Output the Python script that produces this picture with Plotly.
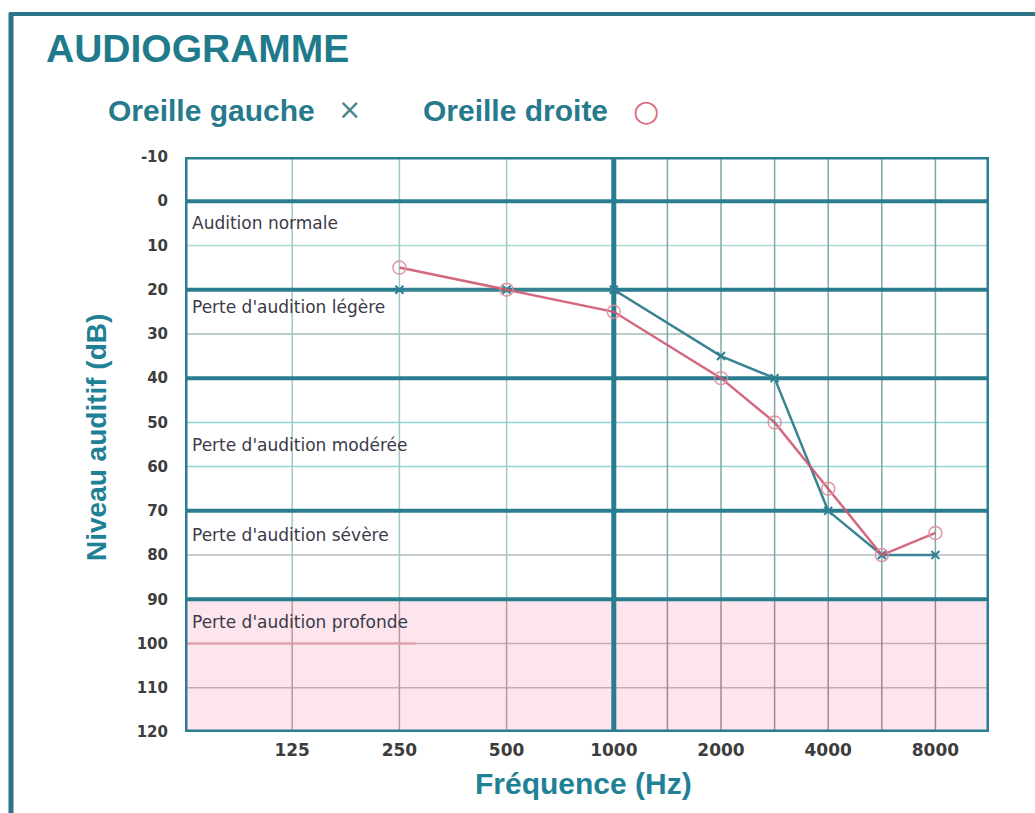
import plotly.graph_objects as go

# Audiometric frequencies (Hz) and hearing thresholds (dB HL)
frequencies = [250, 500, 1000, 2000, 3000, 4000, 6000, 8000]
left_ear = [20, 20, 20, 35, 40, 70, 80, 80]    # Oreille gauche (×)
right_ear = [15, 20, 25, 40, 50, 65, 80, 75]   # Oreille droite (○)

# Horizontal position of each frequency on the audiogram (one unit per octave)
freq_position = {62.5: -1, 125: 0, 250: 1, 500: 2, 1000: 3, 1500: 3.5, 2000: 4,
                 3000: 4.5, 4000: 5, 6000: 5.5, 8000: 6, 12000: 6.5}
tick_freqs = [125, 250, 500, 1000, 2000, 4000, 8000]
tick_labels = [str(f) for f in tick_freqs]
grid_freqs_left = [125, 250, 500]
grid_freqs_right = [1500, 2000, 3000, 4000, 6000, 8000]

db_ticks = list(range(-10, 121, 10))
band_limits = [0, 20, 40, 70, 90]          # thick lines between hearing-loss bands
thin_levels = [10, 30, 50, 60, 80, 100, 110]
thin_colors = {10: "#a9d9cf", 30: "#a4bdb5", 50: "#93d4d6", 60: "#93d4d6",
               80: "#b3bcbf", 100: "#c7aab2", 110: "#c7aab2"}

bands = [("Audition normale", 5), ("Perte d'audition légère", 24),
         ("Perte d'audition modérée", 55), ("Perte d'audition sévère", 75.5),
         ("Perte d'audition profonde", 95.2)]

TEAL = "#2a7c8f"
X_MIN, X_MAX = freq_position[62.5], freq_position[12000]
Y_TOP, Y_BOT = -10, 120

W, H = 1035, 813
M_L, M_R, M_T, M_B = 185, 46, 157, 81


def paper_x(px):
    return (px - M_L) / (W - M_L - M_R)


def paper_y(py):
    return (H - M_B - py) / (H - M_T - M_B)


fig = go.Figure()

shapes = []
# Profound-loss zone
shapes.append(dict(type="rect", xref="x", yref="y", x0=X_MIN, x1=X_MAX, y0=90, y1=Y_BOT,
                   fillcolor="#fde5ee", line=dict(width=0), layer="below"))
# Thin horizontal grid
for lv in thin_levels:
    shapes.append(dict(type="line", xref="x", yref="y", x0=X_MIN, x1=X_MAX, y0=lv, y1=lv,
                       line=dict(color=thin_colors[lv], width=1.5), layer="below"))
# Thin vertical grid
for f in grid_freqs_left:
    xp = freq_position[f]
    shapes.append(dict(type="line", xref="x", yref="y", x0=xp, x1=xp, y0=Y_TOP, y1=90,
                       line=dict(color="#9fc9c7", width=1.5), layer="below"))
    shapes.append(dict(type="line", xref="x", yref="y", x0=xp, x1=xp, y0=90, y1=Y_BOT,
                       line=dict(color="#bf969e", width=1.5), layer="below"))
for f in grid_freqs_right:
    xp = freq_position[f]
    shapes.append(dict(type="line", xref="x", yref="y", x0=xp, x1=xp, y0=Y_TOP, y1=90,
                       line=dict(color="#7fa6a9", width=1.5), layer="below"))
    shapes.append(dict(type="line", xref="x", yref="y", x0=xp, x1=xp, y0=90, y1=Y_BOT,
                       line=dict(color="#a8858d", width=1.5), layer="below"))
# Underline below the profound-loss label
shapes.append(dict(type="line", xref="x", yref="y", x0=X_MIN, x1=1.15, y0=100, y1=100,
                   line=dict(color="#df9aa6", width=2), layer="below"))
# Thick band limits and the 1000 Hz divider
for lv in band_limits:
    shapes.append(dict(type="line", xref="x", yref="y", x0=X_MIN, x1=X_MAX, y0=lv, y1=lv,
                       line=dict(color=TEAL, width=4), layer="below"))
x1k = freq_position[1000]
shapes.append(dict(type="line", xref="x", yref="y", x0=x1k, x1=x1k, y0=Y_TOP, y1=Y_BOT,
                   line=dict(color=TEAL, width=5), layer="below"))
# Plot frame
shapes.append(dict(type="rect", xref="x", yref="y", x0=X_MIN, x1=X_MAX, y0=Y_TOP, y1=Y_BOT,
                   line=dict(color=TEAL, width=5), layer="above"))
# Card border (left and top edges)
shapes.append(dict(type="line", xref="paper", yref="paper", x0=paper_x(11), x1=paper_x(11),
                   y0=paper_y(13), y1=paper_y(H + 5), line=dict(color="#2d7489", width=5)))
shapes.append(dict(type="line", xref="paper", yref="paper", x0=paper_x(9), x1=paper_x(W + 5),
                   y0=paper_y(14), y1=paper_y(14), line=dict(color="#2d7489", width=4)))

xs = [freq_position[f] for f in frequencies]

fig.add_trace(go.Scatter(
    x=xs, y=left_ear, mode="lines+markers", name="Oreille gauche",
    line=dict(color="#3a8393", width=2.5),
    marker=dict(symbol="x-thin", size=8, line=dict(color="#2f7f92", width=2)),
))
fig.add_trace(go.Scatter(
    x=xs, y=right_ear, mode="lines+markers", name="Oreille droite",
    line=dict(color="#d0596f", width=2.5),
    marker=dict(symbol="circle-open", size=13, color="#df8a98", line=dict(width=1.5)),
    opacity=0.9,
))

annotations = []
for label, lv in bands:
    annotations.append(dict(x=X_MIN, y=lv, xref="x", yref="y", text=label, showarrow=False,
                            xanchor="left", yanchor="middle", xshift=5,
                            font=dict(family="DejaVu Sans", size=17, color="#3a3a48")))

annotations += [
    dict(x=paper_x(44), y=paper_y(48), xref="paper", yref="paper", text="<b>AUDIOGRAMME</b>",
         showarrow=False, xanchor="left", yanchor="middle",
         font=dict(family="Liberation Sans", size=39, color="#1f7b8c")),
    dict(x=paper_x(106), y=paper_y(110), xref="paper", yref="paper", text="<b>Oreille gauche</b>",
         showarrow=False, xanchor="left", yanchor="middle",
         font=dict(family="Liberation Sans", size=30, color="#267a8c")),
    dict(x=paper_x(349), y=paper_y(109), xref="paper", yref="paper", text="×",
         showarrow=False, xanchor="center", yanchor="middle",
         font=dict(family="DejaVu Sans", size=28, color="#4f8390")),
    dict(x=paper_x(421), y=paper_y(110), xref="paper", yref="paper", text="<b>Oreille droite</b>",
         showarrow=False, xanchor="left", yanchor="middle",
         font=dict(family="Liberation Sans", size=30, color="#267a8c")),
    dict(x=paper_x(646), y=paper_y(110), xref="paper", yref="paper", text="○",
         showarrow=False, xanchor="center", yanchor="middle",
         font=dict(family="DejaVu Sans", size=30, color="#d9697f")),
    dict(x=paper_x(96), y=paper_y(438), xref="paper", yref="paper", text="<b>Niveau auditif (dB)</b>",
         textangle=-90, showarrow=False, xanchor="center", yanchor="middle",
         font=dict(family="Liberation Sans", size=28, color="#1f8196")),
    dict(x=paper_x(583), y=paper_y(783), xref="paper", yref="paper", text="<b>Fréquence (Hz)</b>",
         showarrow=False, xanchor="center", yanchor="middle",
         font=dict(family="Liberation Sans", size=30, color="#1f8196")),
]

fig.update_layout(
    width=W, height=H,
    margin=dict(l=M_L, r=M_R, t=M_T, b=M_B),
    paper_bgcolor="white", plot_bgcolor="white",
    showlegend=False,
    shapes=shapes,
    annotations=annotations,
    xaxis=dict(range=[X_MIN, X_MAX], tickmode="array",
               tickvals=[freq_position[f] for f in tick_freqs], ticktext=tick_labels,
               showgrid=False, zeroline=False, showline=False, ticks="",
               ticklabelstandoff=6,
               tickfont=dict(family="DejaVu Sans", size=17, color="#3d3d3d", weight="bold")),
    yaxis=dict(range=[Y_BOT, Y_TOP], tickmode="array", tickvals=db_ticks,
               ticktext=[str(v) for v in db_ticks],
               showgrid=False, zeroline=False, showline=False, ticks="",
               ticklabelstandoff=16,
               tickfont=dict(family="DejaVu Sans", size=15, color="#3d3d3d", weight="bold")),
)

fig.write_html("out.html")
